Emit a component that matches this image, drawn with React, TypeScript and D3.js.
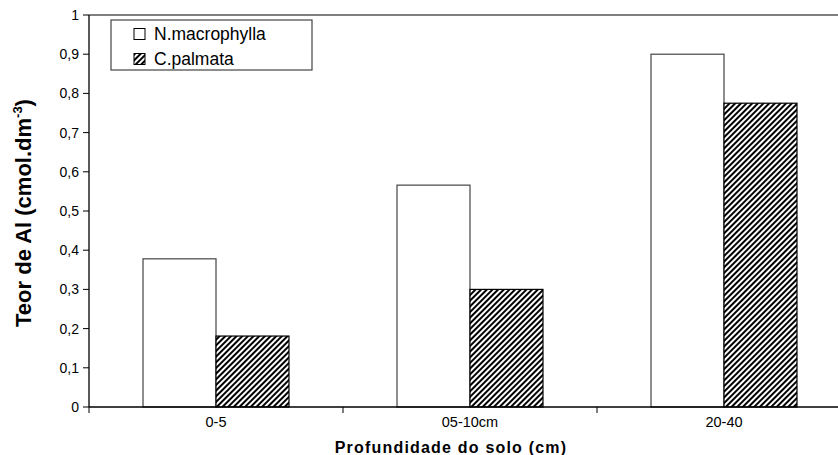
import React from "react";
import { scaleBand, scaleLinear, range } from "d3";

// dados
const categories = ["0-5", "05-10cm", "20-40"];
const seriesNames = ["N.macrophylla", "C.palmata"];
const nMacrophylla = [0.378, 0.566, 0.9];
const cPalmata = [0.181, 0.3, 0.775];
const yTicks = [0, 0.1, 0.2, 0.3, 0.4, 0.5, 0.6, 0.7, 0.8, 0.9, 1];

const W = 838;
const H = 455;
const left = 89;
const right = 851;
const top = 15;
const bottom = 407;
const font = "'Liberation Sans', Arial, sans-serif";

const App = () => {
  const x = scaleBand().domain(categories).range([left, right]);
  const inner = scaleBand()
    .domain(seriesNames)
    .range([0, x.bandwidth()])
    .paddingInner(0)
    .paddingOuter(0.74);
  const y = scaleLinear().domain([0, 1]).range([bottom, top]);
  const values = [nMacrophylla, cPalmata];
  const fmt = (v: number) => String(Math.round(v * 10) / 10).replace(".", ",");

  return (
    <svg
      width={W}
      height={H}
      style={{ position: "absolute", left: 0, top: 0, background: "#fff" }}
      fontFamily={font}
    >
      <defs>
        <pattern
          id="hatch"
          patternUnits="userSpaceOnUse"
          width={4}
          height={4}
          patternTransform="rotate(45)"
        >
          <rect width={4} height={4} fill="#fff" />
          <rect x={0} y={0} width={2} height={4} fill="#000" />
        </pattern>
      </defs>

      {/* linha superior */}
      <line x1={left} x2={W} y1={top} y2={top} stroke="#555" strokeWidth={1.5} />

      {/* barras */}
      {categories.map((c, i) =>
        seriesNames.map((s, j) => {
          const v = values[j][i];
          return (
            <rect
              key={c + s}
              x={(x(c) ?? 0) + (inner(s) ?? 0)}
              y={y(v)}
              width={inner.bandwidth()}
              height={bottom - y(v)}
              fill={j === 0 ? "#fff" : "url(#hatch)"}
              stroke={j === 0 ? "#444" : "#000"}
              strokeWidth={1.2}
            />
          );
        })
      )}

      {/* eixo y */}
      <line x1={left} x2={left} y1={top} y2={bottom} stroke="#000" strokeWidth={1.3} />
      {yTicks.map((t) => (
        <g key={t}>
          <line x1={left - 6} x2={left} y1={y(t)} y2={y(t)} stroke="#000" />
          <text
            x={left - 10}
            y={y(t)}
            dy="0.35em"
            textAnchor="end"
            fontSize={14}
            fill="#000"
          >
            {fmt(t)}
          </text>
        </g>
      ))}

      {/* eixo x */}
      <line x1={left} x2={W} y1={bottom} y2={bottom} stroke="#000" strokeWidth={1.3} />
      {range(categories.length + 1).map((i) => {
        const px = left + i * x.step();
        return <line key={i} x1={px} x2={px} y1={bottom} y2={bottom + 6} stroke="#000" />;
      })}
      {categories.map((c) => (
        <text
          key={c}
          x={(x(c) ?? 0) + x.bandwidth() / 2}
          y={427}
          textAnchor="middle"
          fontSize={14.5}
          fill="#000"
        >
          {c}
        </text>
      ))}

      <text
        x={451}
        y={453}
        textAnchor="middle"
        fontSize={16}
        fontWeight="bold"
        letterSpacing={1.2}
        fill="#000"
      >
        Profundidade do solo (cm)
      </text>

      <text
        transform={`translate(31, 213) rotate(-90)`}
        textAnchor="middle"
        fontSize={22}
        fontWeight="bold"
        fill="#000"
      >
        Teor de Al (cmol.dm
        <tspan dy={-9} fontSize={13}>-3</tspan>
        <tspan dy={9}>)</tspan>
      </text>

      {/* legenda */}
      <rect x={111} y={20} width={201} height={50} fill="#fff" stroke="#444" strokeWidth={1.2} />
      {seriesNames.map((s, j) => (
        <g key={s} transform={`translate(134, ${34 + j * 25})`}>
          <rect
            x={0}
            y={-5.5}
            width={11}
            height={11}
            fill={j === 0 ? "#fff" : "url(#hatch)"}
            stroke="#000"
            strokeWidth={1}
          />
          <text x={20} y={0} dy="0.36em" fontSize={17.5} fill="#000">
            {s}
          </text>
        </g>
      ))}
    </svg>
  );
};

export default App;
